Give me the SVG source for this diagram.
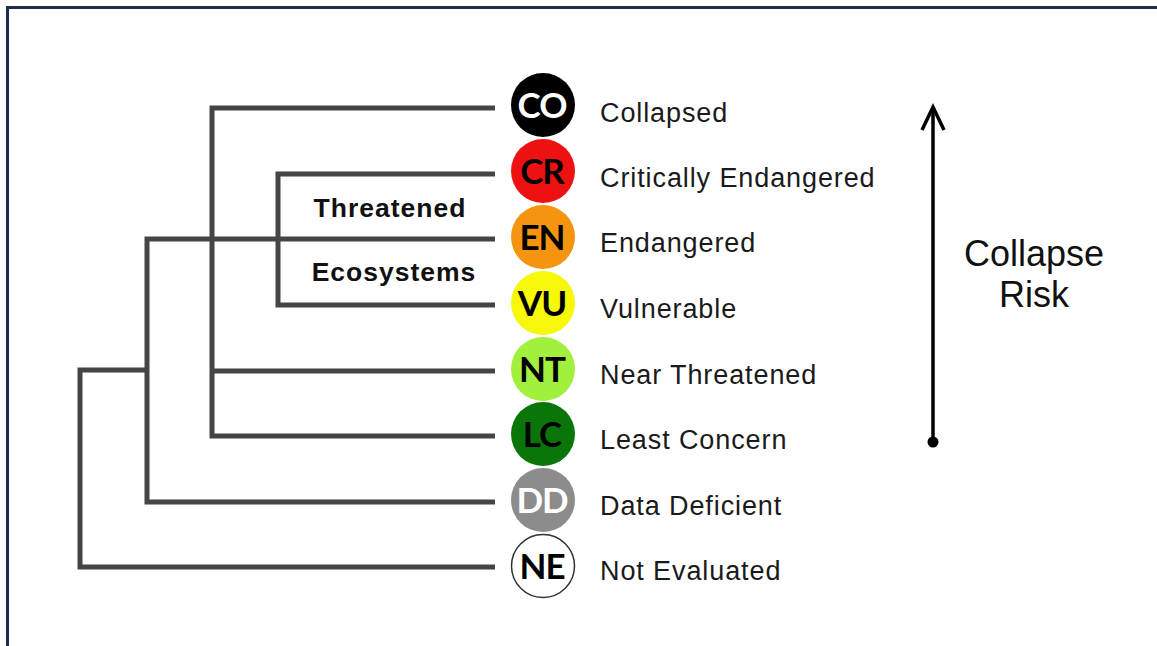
<svg xmlns="http://www.w3.org/2000/svg" width="1157" height="646" viewBox="0 0 1157 646">
<defs>
<style>
.tree{fill:none;stroke:#454545;stroke-width:5;stroke-linejoin:miter;stroke-linecap:butt}
.lbl{font-family:"Liberation Sans",Arial,sans-serif;font-size:27px;letter-spacing:0.9px;fill:#1a1a1a}
.grp{font-family:"Liberation Sans",Arial,sans-serif;font-size:26.5px;font-weight:bold;letter-spacing:1px;fill:#111;text-anchor:middle}
.code{font-family:Lato,"Open Sans",sans-serif;font-size:35px;font-weight:bold;letter-spacing:-1px;text-anchor:middle}
.risk{font-family:"Liberation Sans",Arial,sans-serif;font-size:36px;fill:#111;text-anchor:middle}
</style>
</defs>
<rect width="1157" height="646" fill="#ffffff"/>
<path d="M7.5,646 V7.5 H1157" fill="none" stroke="#1f2d4d" stroke-width="3"/>
<g id="connectors">
<path class="tree" d="M495,108 H212 V436 H495"/>
<path class="tree" d="M212,371 H495"/>
<path class="tree" d="M495,174 H278 V305 H495"/>
<path class="tree" d="M495,239 H147 V502 H495"/>
<path class="tree" d="M147,370 H80 V567 H495"/>
</g>
<g id="group-label">
<text class="grp" x="390" y="217">Threatened</text>
<text class="grp" x="394" y="281">Ecosystems</text>
</g>
<g id="node-CO">
<circle cx="543" cy="105" r="32" fill="#000000"/>
<text class="code" x="542" y="117.5" fill="#ffffff">CO</text>
<text class="lbl" x="600" y="122">Collapsed</text>
</g>
<g id="node-CR">
<circle cx="543" cy="171" r="32" fill="#ee1111"/>
<text class="code" x="542" y="183.5" fill="#000000">CR</text>
<text class="lbl" x="600" y="187">Critically Endangered</text>
</g>
<g id="node-EN">
<circle cx="543" cy="237" r="32" fill="#f5940f"/>
<text class="code" x="542" y="249.5" fill="#000000">EN</text>
<text class="lbl" x="600" y="252">Endangered</text>
</g>
<g id="node-VU">
<circle cx="543" cy="303" r="32" fill="#f7f70a"/>
<text class="code" x="542" y="315.5" fill="#000000">VU</text>
<text class="lbl" x="600" y="318">Vulnerable</text>
</g>
<g id="node-NT">
<circle cx="543" cy="369" r="32" fill="#a2f03e"/>
<text class="code" x="542" y="381.5" fill="#000000">NT</text>
<text class="lbl" x="600" y="384">Near Threatened</text>
</g>
<g id="node-LC">
<circle cx="543" cy="434" r="32" fill="#0a760a"/>
<text class="code" x="542" y="446.5" fill="#000000">LC</text>
<text class="lbl" x="600" y="449">Least Concern</text>
</g>
<g id="node-DD">
<circle cx="543" cy="500" r="32" fill="#8c8c8c"/>
<text class="code" x="542" y="512.5" fill="#ffffff">DD</text>
<text class="lbl" x="600" y="515">Data Deficient</text>
</g>
<g id="node-NE">
<circle cx="543" cy="566" r="31.5" fill="#ffffff" stroke="#333333" stroke-width="1.5"/>
<text class="code" x="542" y="578.5" fill="#000000">NE</text>
<text class="lbl" x="600" y="580">Not Evaluated</text>
</g>
<g id="risk-arrow">
<line x1="933" y1="442" x2="933" y2="107" stroke="#000" stroke-width="3.5"/>
<polyline points="922,130 933,107 944,130" fill="none" stroke="#000" stroke-width="3.5" stroke-linejoin="miter"/>
<circle cx="933" cy="442" r="5.5" fill="#000"/>
<text class="risk" x="1034" y="266">Collapse</text>
<text class="risk" x="1034" y="307">Risk</text>
</g>
</svg>
